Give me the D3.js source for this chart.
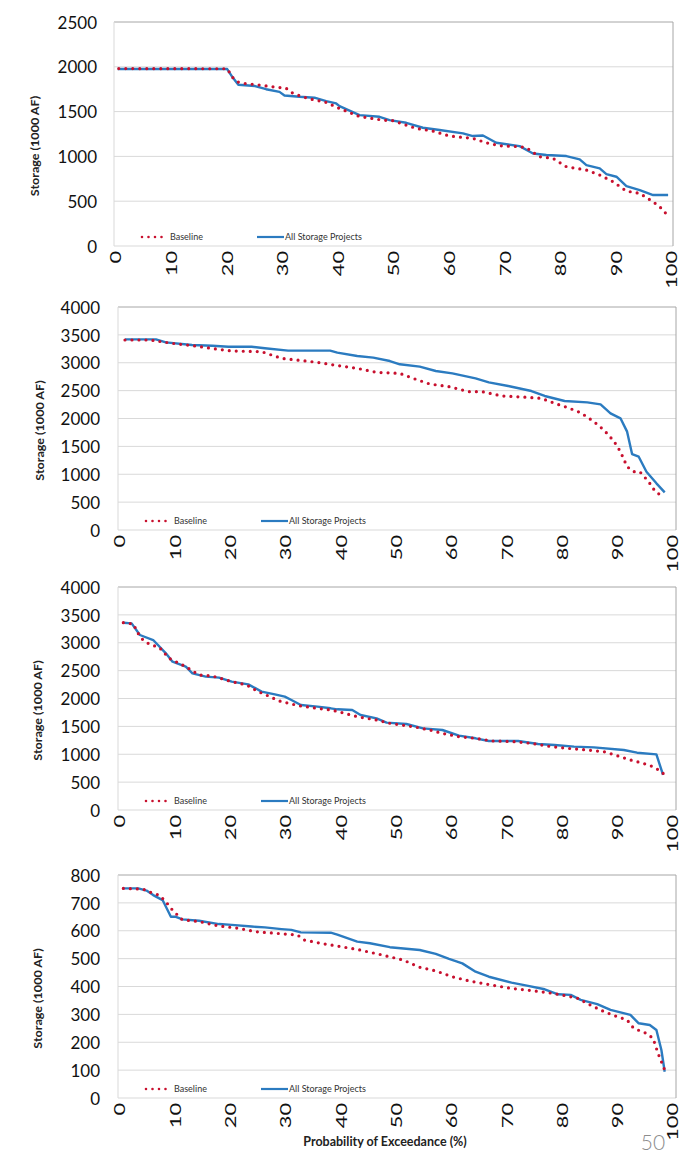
<!DOCTYPE html>
<html><head><meta charset="utf-8">
<script src="https://cdn.jsdelivr.net/npm/d3@7"></script>
<style>
html,body{margin:0;padding:0;background:#fff;}
svg{display:block;}
text{font-family:Lato,"Open Sans",sans-serif;}
</style></head>
<body>
<svg id="chart" width="681" height="1160"></svg>
<script>
// ---------- DATA ----------
const seriesNames = ["Baseline", "All Storage Projects"];
const xTicks = [0,10,20,30,40,50,60,70,80,90,100];
const yTicks1 = [0,500,1000,1500,2000,2500];
const yTicks2 = [0,500,1000,1500,2000,2500,3000,3500,4000];
const yTicks3 = [0,500,1000,1500,2000,2500,3000,3500,4000];
const yTicks4 = [0,100,200,300,400,500,600,700,800];
const xTitle = "Probability of Exceedance (%)";
const yTitle = "Storage (1000 AF)";
const pageNumber = "50";

const p1Baseline = [[0.5,1980],[20,1978],[21,1880],[22,1830],[23,1815],[26,1795],[29,1770],[30.5,1765],[31.8,1705],[33.6,1665],[35.7,1628],[37.5,1610],[39.3,1560],[40.2,1535],[43.8,1445],[48,1405],[49.8,1398],[54,1312],[57,1283],[60,1227],[64.2,1201],[66.6,1152],[69,1119],[72.6,1108],[73.8,1097],[76.2,996],[78.6,978],[81,885],[84.6,848],[87,792],[89.4,717],[91.8,613],[94.2,587],[96.6,494],[98.1,420],[99.3,335]];
const p1AllStorage = [[0.3,1975],[20,1975],[21,1880],[22,1800],[25,1785],[27,1750],[29.4,1720],[30.3,1680],[33,1665],[35.7,1655],[37.8,1617],[39.6,1591],[40.2,1561],[43.8,1461],[47.4,1442],[49.2,1405],[52.2,1375],[55.2,1320],[58.2,1294],[62.4,1257],[64.2,1227],[66,1234],[68.4,1152],[72.6,1115],[75,1033],[77.4,1015],[81,1004],[83.4,967],[84.6,903],[87,866],[88.2,803],[90,773],[91.8,669],[94.2,624],[96.6,569],[99.3,569]];

const p2Baseline = [[0.9,3408],[5.4,3408],[9.5,3348],[13.7,3300],[17.3,3247],[20.2,3211],[25.6,3199],[27.4,3139],[29.2,3079],[32,3049],[35.7,3007],[38.7,2960],[42.9,2900],[46.4,2828],[50.6,2810],[53,2720],[56,2619],[59.5,2571],[63.1,2481],[65.5,2481],[69,2404],[72.6,2386],[76.2,2362],[78.6,2272],[81,2194],[83.3,2105],[85.7,1943],[87.5,1794],[89.3,1596],[90.5,1405],[91.7,1136],[92.9,1046],[94,1046],[95.6,867],[96.8,688],[98.2,598]];
const p2AllStorage = [[0.9,3420],[6.5,3420],[8.3,3366],[13,3318],[16.7,3306],[19.6,3288],[23.8,3288],[26.2,3259],[30.4,3217],[38,3217],[39.3,3181],[42.9,3121],[45.8,3091],[48.8,3031],[50.6,2972],[54.2,2930],[57.1,2852],[60.1,2810],[64.3,2720],[66.7,2649],[70.2,2583],[74.4,2493],[76.8,2404],[80.4,2314],[84.5,2290],[86.9,2254],[88.7,2093],[90.5,2003],[91.7,1764],[92.6,1363],[93.8,1315],[95.2,1046],[97,837],[98.5,676]];

const p3Baseline = [[0.6,3360],[2.4,3336],[3.6,3109],[4.5,3019],[5.7,2960],[7.1,2918],[8.9,2720],[11.9,2571],[14.3,2421],[16.7,2404],[20.2,2302],[22.9,2242],[25,2123],[27.4,2021],[28.6,1961],[31,1901],[32.7,1865],[35.7,1824],[38.1,1794],[39.3,1770],[42.9,1674],[46.4,1614],[48.8,1555],[53,1495],[56,1435],[58.3,1375],[61.3,1315],[64.3,1286],[67.3,1238],[71.4,1226],[74.4,1196],[78,1136],[81,1106],[84.5,1076],[87.5,1046],[89.9,975],[92.3,897],[94.6,837],[96.4,777],[97.9,688],[98.5,628]];
const p3AllStorage = [[0.6,3360],[2.1,3348],[3.6,3139],[6,3049],[8.3,2810],[9.5,2661],[11.9,2571],[13.1,2451],[15.5,2392],[17.9,2374],[20.2,2302],[23.2,2254],[25.6,2123],[28,2075],[29.8,2033],[31,1973],[32.7,1883],[35.7,1854],[38.1,1824],[39.3,1806],[42,1794],[43.5,1704],[46.4,1644],[48.2,1567],[51.8,1543],[54.8,1465],[58.3,1435],[61.3,1333],[64.3,1286],[66.7,1238],[72,1238],[75.6,1184],[78.6,1166],[82.1,1136],[85.7,1124],[91.1,1076],[93.5,1028],[97,998],[98.2,628]];

const p4Baseline = [[0.6,752],[4.2,749],[6,734],[7.1,728],[8.3,704],[9.5,674],[11.3,639],[14.3,633],[17.9,617],[21.4,609],[24.4,597],[28,591],[32.1,585],[33.3,567],[36.3,555],[38.7,547],[42.9,533],[47,515],[51.2,495],[54.2,469],[57.1,456],[60.1,435],[63.1,420],[67.3,405],[70.8,393],[75,384],[77.4,378],[79.8,370],[82.7,358],[85,334],[87.5,310],[89.9,292],[91.7,280],[92.9,250],[95.2,232],[96.4,214],[97.3,160],[98.5,100]];
const p4AllStorage = [[0.6,752],[3.3,752],[4.8,744],[6,728],[7.7,710],[9.2,650],[10.1,650],[11.3,641],[14.3,636],[17.9,624],[20.2,621],[23.8,615],[26.2,612],[29.2,606],[31,603],[32.7,594],[38.1,593],[39.3,586],[42.9,561],[45.2,555],[48.8,541],[54.2,531],[57.1,517],[59.5,499],[61.9,483],[64.3,453],[66.7,435],[70.8,414],[73.8,402],[76.8,390],[79.2,372],[81.5,370],[83.3,352],[86.3,337],[88.7,316],[92.3,298],[93.8,268],[95.8,262],[97,244],[97.9,172],[98.5,94]];

// ---------- LAYOUT ----------
const panels = [
  {base:p1Baseline, all:p1AllStorage, ticks:yTicks1, left:114, right:673, x0:116, x1:672, top:22,  bottom:246, ytx:97,  ttx:35},
  {base:p2Baseline, all:p2AllStorage, ticks:yTicks2, left:118, right:676, x0:120, x1:673, top:307, bottom:530, ytx:100, ttx:40},
  {base:p3Baseline, all:p3AllStorage, ticks:yTicks3, left:118, right:676, x0:120, x1:673, top:587, bottom:810, ytx:100, ttx:38},
  {base:p4Baseline, all:p4AllStorage, ticks:yTicks4, left:118, right:676, x0:120, x1:673, top:875, bottom:1098, ytx:100, ttx:38}
];
const colBase = "#C8102E", colAll = "#2B7BC0";

const svg = d3.select("#chart");

panels.forEach(p => {
  const g = svg.append("g");
  const x = d3.scaleLinear().domain([0,100]).range([p.x0, p.x1]);
  const yMax = d3.max(p.ticks);
  const y = d3.scaleLinear().domain([0, yMax]).range([p.bottom, p.top]);

  // gridlines
  g.append("g").selectAll("line").data(p.ticks).join("line")
    .attr("x1", p.left).attr("x2", p.right)
    .attr("y1", d => y(d)).attr("y2", d => y(d))
    .attr("stroke", d => d === yMax ? "#a6a6a6" : "#d9d9d9")
    .attr("stroke-width", 1);
  // left axis line and right border
  g.append("line").attr("x1", p.left).attr("x2", p.left).attr("y1", y(yMax)).attr("y2", y(0))
    .attr("stroke", "#d9d9d9");
  g.append("line").attr("x1", p.right).attr("x2", p.right).attr("y1", y(yMax)).attr("y2", y(0))
    .attr("stroke", "#a6a6a6");

  // y tick labels
  const yAxis = d3.axisLeft(y).tickValues(p.ticks).tickFormat(d3.format("d")).tickSize(0).tickPadding(0);
  const ya = g.append("g").attr("transform", `translate(${p.ytx},0)`).call(yAxis);
  ya.select(".domain").remove();
  ya.selectAll("text").attr("font-size", 17).attr("fill", "#111")
    .attr("font-family", "Lato, 'Open Sans', sans-serif").attr("dy", "0.36em");

  // x tick labels (rotated)
  g.append("g").selectAll("text").data(xTicks).join("text")
    .attr("transform", d => `translate(${x(d)},${p.bottom + 5}) rotate(-90) scale(1.45,1)`)
    .attr("text-anchor", "end").attr("dy", "0.36em")
    .attr("font-size", 15).attr("fill", "#111")
    .text(d => d);

  // y title
  g.append("text")
    .attr("transform", `translate(${p.ttx},${(p.top + p.bottom)/2 + 12}) rotate(-90) scale(1.2,1)`)
    .attr("text-anchor", "middle").attr("dy", "0.35em")
    .attr("font-size", 10.5).attr("font-weight", "bold").attr("fill", "#222")
    .text(yTitle);

  const line = d3.line().x(d => x(d[0])).y(d => y(d[1]));

  g.append("path").datum(p.all).attr("d", line)
    .attr("fill", "none").attr("stroke", colAll).attr("stroke-width", 2.4)
    .attr("stroke-linejoin", "round");
  g.append("path").datum(p.base).attr("d", line)
    .attr("fill", "none").attr("stroke", colBase).attr("stroke-width", 3.2)
    .attr("stroke-linecap", "round").attr("stroke-dasharray", "0 7");

  // legend
  const ly = p.bottom - 9;
  const lg = g.append("g");
  lg.append("line").attr("x1", p.left + 28).attr("x2", p.left + 52).attr("y1", ly).attr("y2", ly)
    .attr("stroke", colBase).attr("stroke-width", 2.6).attr("stroke-linecap", "round").attr("stroke-dasharray", "0 6.5");
  lg.append("text").attr("x", p.left + 56).attr("y", ly).attr("dy", "0.35em")
    .attr("font-size", 9).attr("fill", "#333").text(seriesNames[0]);
  lg.append("line").attr("x1", p.left + 143).attr("x2", p.left + 170).attr("y1", ly).attr("y2", ly)
    .attr("stroke", colAll).attr("stroke-width", 2.2);
  lg.append("text").attr("x", p.left + 171).attr("y", ly).attr("dy", "0.35em")
    .attr("font-size", 9).attr("fill", "#333").text(seriesNames[1]);
});

// x title
svg.append("text").attr("x", 385).attr("y", 1142).attr("dy", "0.35em")
  .attr("text-anchor", "middle").attr("font-size", 12.5).attr("font-weight", "bold").attr("fill", "#222")
  .text(xTitle);

// page number
svg.append("text").attr("x", 653).attr("y", 1143).attr("dy", "0.35em")
  .attr("text-anchor", "middle").attr("font-size", 21).attr("font-weight", 300).attr("fill", "#8c8c8c")
  .text(pageNumber);
</script>
</body></html>
